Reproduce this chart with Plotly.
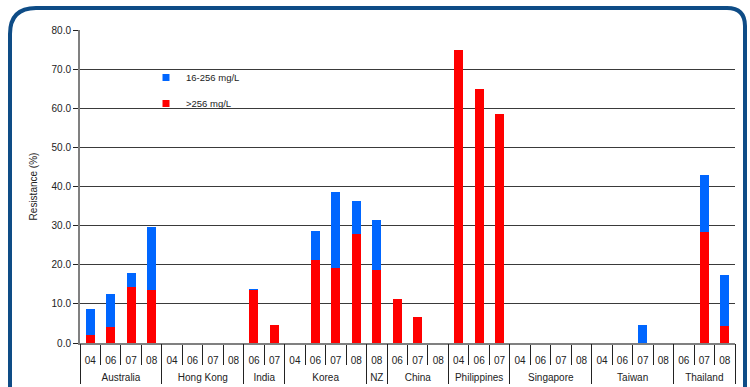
import plotly.graph_objects as go

# Surveillance data: resistance by country and year (%)
countries = (["Australia"] * 4 + ["Hong Kong"] * 4 + ["India"] * 2 + ["Korea"] * 4 +
             ["NZ"] + ["China"] * 3 + ["Philippines"] * 3 + ["Singapore"] * 4 +
             ["Taiwan"] * 4 + ["Thailand"] * 3)
years = (["04", "06", "07", "08"] + ["04", "06", "07", "08"] + ["06", "07"] +
         ["04", "06", "07", "08"] + ["08"] + ["06", "07", "08"] + ["04", "06", "07"] +
         ["04", "06", "07", "08"] + ["04", "06", "07", "08"] + ["06", "07", "08"])

high_res = [2.0, 4.1, 14.3, 13.6,
            0, 0, 0, 0,
            13.6, 4.6,
            0, 21.3, 19.2, 27.9,
            18.7,
            11.2, 6.6, 0,
            75.0, 64.8, 58.5,
            0, 0, 0, 0,
            0, 0, 0, 0,
            0, 28.4, 4.4]
mid_res = [6.7, 8.4, 3.6, 16.0,
           0, 0, 0, 0,
           0.2, 0,
           0, 7.3, 19.3, 8.3,
           12.7,
           0, 0, 0,
           0, 0, 0,
           0, 0, 0, 0,
           0, 0, 4.6, 0,
           0, 14.5, 12.9]

y_ticks = [0, 10, 20, 30, 40, 50, 60, 70, 80]

RED = "#ff0000"
BLUE = "#0066ff"
FONT = "Liberation Sans, Arial, sans-serif"
TXT = "#222222"
LINE = "#222222"

# slot index of each (country, year) pair, and the country groups built from it
slots = list(range(len(years)))
groups = []
for i, c in enumerate(countries):
    if groups and groups[-1][0] == c:
        groups[-1][2] = i
    else:
        groups.append([c, i, i])
group_names = [g[0] for g in groups]
group_mid = [(g[1] + g[2]) / 2 for g in groups]
group_edges = [g[1] - 0.5 for g in groups] + [groups[-1][2] + 0.5]
slot_edges = [s - 0.5 for s in slots] + [slots[-1] + 0.5]
x_range = [slot_edges[0], slot_edges[-1]]

fig = go.Figure()
fig.add_trace(go.Bar(x=slots, y=high_res, name=">256 mg/L",
                     customdata=countries, text=years,
                     marker=dict(color=RED, line=dict(width=0)), showlegend=False,
                     textposition="none"))
fig.add_trace(go.Bar(x=slots, y=mid_res, name="16-256 mg/L",
                     customdata=countries, text=years,
                     marker=dict(color=BLUE, line=dict(width=0)), showlegend=False,
                     textposition="none"))

# empty trace that binds the country-row axis so it gets drawn
fig.add_trace(go.Scatter(x=group_mid, y=[None] * len(group_mid), mode="markers",
                         xaxis="x3", yaxis="y", showlegend=False, hoverinfo="skip"))

# small square legend keys, on a hidden helper axis so nothing shows in the plot
fig.add_trace(go.Scatter(x=[-1], y=[-1], mode="markers", name="16-256 mg/L",
                         marker=dict(symbol="square", size=7, color=BLUE),
                         xaxis="x2", yaxis="y2", legendgroup="a", hoverinfo="skip"))
fig.add_trace(go.Scatter(x=[-1], y=[-1], mode="markers", name=">256 mg/L",
                         marker=dict(symbol="square", size=7, color=RED),
                         xaxis="x2", yaxis="y2", legendgroup="b", hoverinfo="skip"))

# plot-area geometry in pixels, used to place the rounded frame
W, H = 750, 387
L, R, T, B = 80, 15, 30, 44
pw, ph = W - L - R, H - T - B


def px(x):
    return (x - L) / pw


def py(y):
    return (H - B - y) / ph


x0, x1, y0, y1 = 10, 745, 8, 430
r1, r2 = 26, 18
frame = (f"M {px(x0)},{py(y1)} L {px(x0)},{py(y0 + r1)} "
         f"Q {px(x0)},{py(y0)} {px(x0 + r1)},{py(y0)} "
         f"L {px(x1 - r2)},{py(y0)} Q {px(x1)},{py(y0)} {px(x1)},{py(y0 + r2)} "
         f"L {px(x1)},{py(y1)}")

fig.update_layout(
    width=W, height=H,
    margin=dict(l=L, r=R, t=T, b=B, autoexpand=False),
    paper_bgcolor="white", plot_bgcolor="white",
    barmode="stack", bargap=0.56,
    font=dict(family=FONT, size=10, color=TXT),
    showlegend=True,
    legend=dict(x=px(146), y=py(63), xanchor="left", yanchor="top",
                bgcolor="rgba(0,0,0,0)", borderwidth=0, font=dict(size=9.5, color=TXT),
                tracegroupgap=7, itemwidth=30),
    xaxis2=dict(overlaying="x", range=[0, 1], visible=False, fixedrange=True),
    yaxis2=dict(overlaying="y", range=[0, 1], visible=False, fixedrange=True),
    # country row beneath the year row
    xaxis3=dict(overlaying="x", anchor="free", position=0, side="bottom",
                range=x_range, tickvals=group_mid, ticktext=group_names,
                ticks="outside", ticklen=25, tickcolor="rgba(0,0,0,0)",
                tickfont=dict(size=10, color=TXT), tickangle=0,
                showline=False, showgrid=False, zeroline=False, automargin=False,
                minor=dict(tickvals=group_edges, ticks="outside", ticklen=40,
                           tickcolor=LINE, tickwidth=1, showgrid=False)),
    shapes=[
        dict(type="path", path=frame, xref="paper", yref="paper",
             line=dict(color="#0e4c86", width=4), layer="above"),
        # white patch behind the legend that breaks the gridlines
        dict(type="rect", xref="paper", yref="paper",
             x0=px(157), x1=px(236), y0=py(115), y1=py(62),
             fillcolor="white", line=dict(width=0), layer="between"),
    ],
)

fig.layout.yaxis.update(range=[0, 80], tickvals=y_ticks, tickformat=".1f",
                        showgrid=True, gridcolor="#3a3a3a", gridwidth=1,
                        showline=True, linecolor="#808080", linewidth=2,
                        ticks="outside", ticklen=5, tickcolor=LINE,
                        tickfont=dict(size=10, color=TXT), zeroline=False,
                        automargin=False,
                        title=dict(text="Resistance (%)", font=dict(size=10, color=TXT),
                                   standoff=12))
fig.layout.xaxis.update(range=x_range, tickvals=slots, ticktext=years,
                        showline=True, linecolor="#808080", linewidth=2,
                        ticks="outside", ticklen=7, tickcolor="rgba(0,0,0,0)",
                        tickangle=0, automargin=False, zeroline=False, showgrid=False,
                        tickfont=dict(size=10, color=TXT),
                        minor=dict(tickvals=slot_edges, ticks="outside", ticklen=20,
                                   tickcolor=LINE, tickwidth=1, showgrid=False))

fig.write_html("out.html")
